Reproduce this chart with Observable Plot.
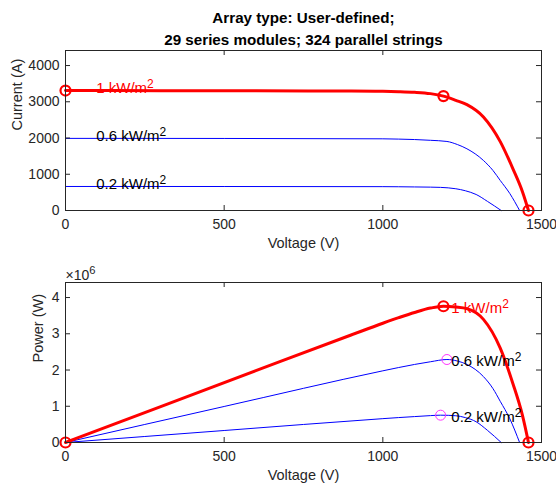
<!DOCTYPE html>
<html>
<head>
<meta charset="utf-8">
<script src="https://cdn.jsdelivr.net/npm/d3@7"></script>
<script src="https://cdn.jsdelivr.net/npm/@observablehq/plot@0.6"></script>
<style>
  html, body { margin: 0; padding: 0; background: #fff; }
  #chart { position: relative; width: 556px; height: 484px; font-family: "Liberation Sans", Arial, sans-serif; }
  #chart svg { display: block; overflow: visible; }
</style>
</head>
<body>
<div id="chart"></div>
<script>
// ---- data ----
const titleLines = ["Array type: User-defined;", "29 series modules; 324 parallel strings"];
const xTicks = [0, 500, 1000, 1500];
const iTicks = [0, 1000, 2000, 3000, 4000];
const pTicks = [0, 1, 2, 3, 4];

// 1 kW/m^2 (red, thick): voltage (V), current (A), power (x10^6 W)
const vRed = [0, 300, 600, 900, 1000, 1050, 1100, 1150, 1191, 1230, 1265, 1317, 1370, 1410, 1440, 1459];
const iRed = [3310, 3306, 3302, 3296, 3290, 3280, 3262, 3225, 3157, 3040, 2920, 2580, 1900, 1150, 520, 0];
const pRed = [0, 0.992, 1.981, 2.966, 3.29, 3.444, 3.588, 3.709, 3.760, 3.739, 3.694, 3.398, 2.603, 1.622, 0.749, 0];
// 0.6 kW/m^2 (blue)
const v06 = [0, 500, 1000, 1050, 1100, 1150, 1202, 1235, 1265, 1317, 1347, 1370, 1400, 1431];
const i06 = [1990, 1988, 1978, 1970, 1958, 1937, 1905, 1820, 1703, 1381, 1105, 829, 470, 0];
const p06 = [0, 0.994, 1.978, 2.069, 2.154, 2.228, 2.290, 2.248, 2.154, 1.819, 1.488, 1.136, 0.658, 0];
// 0.2 kW/m^2 (blue)
const v02 = [0, 500, 1000, 1050, 1100, 1150, 1182, 1230, 1260, 1294, 1330, 1373];
const i02 = [663, 662, 658, 655, 650, 645, 638, 600, 545, 442, 250, 0];
const p02 = [0, 0.331, 0.658, 0.688, 0.715, 0.742, 0.754, 0.738, 0.687, 0.572, 0.333, 0];

// marker points
const redIVMarks = {v: [0, 1191, 1459], i: [3310, 3157, 0]};
const redPVMarks = {v: [0, 1191, 1459], p: [0, 3.76, 0]};
const mppBlue = {v: [1202, 1182], p: [2.29, 0.754]};

// curve labels
const labelText = ["1 kW/m²", "0.6 kW/m²", "0.2 kW/m²"];
const labelColor = ["#ff0000", "#000000", "#000000"];
const ivLabelV = [100, 100, 100];
const ivLabelI = [3310, 1990, 663];
const pvLabelV = [1200, 1200, 1200];
const pvLabelP = [3.76, 2.29, 0.754];

const xLabel = "Voltage (V)";
const iLabel = "Current (A)";
const pLabel = "Power (W)";
const expLabel = "×10⁶";

// ---- helpers ----
const zip = (xs, ys, kx, ky) => xs.map((x, k) => ({[kx]: x, [ky]: ys[k]}));
const axisColor = "#262626";
const W = 556;
const FW = 476, FH = 160;
const tickFont = 14, labelFont = 14.5;

function axesMarks(yTicks, yLabel, yLabelDx) {
  return [
    Plot.frame({stroke: axisColor, strokeWidth: 1}),
    Plot.tickX(xTicks, {x: d => d, insetTop: FH - 5, stroke: axisColor}),
    Plot.tickX(xTicks, {x: d => d, insetBottom: FH - 5, stroke: axisColor}),
    Plot.tickY(yTicks, {y: d => d, insetRight: FW - 5, stroke: axisColor}),
    Plot.tickY(yTicks, {y: d => d, insetLeft: FW - 5, stroke: axisColor}),
    Plot.text(xTicks, {x: d => d, text: d => String(d), frameAnchor: "bottom", lineAnchor: "middle", dy: 14, fontSize: tickFont, fill: axisColor}),
    Plot.text(yTicks, {y: d => d, text: d => String(d), frameAnchor: "left", textAnchor: "end", dx: -6, fontSize: tickFont, fill: axisColor}),
    Plot.text([xLabel], {frameAnchor: "bottom", lineAnchor: "middle", dy: 33, fontSize: labelFont, fill: axisColor}),
    Plot.text([yLabel], {frameAnchor: "left", rotate: -90, dx: yLabelDx, fontSize: labelFont, fill: axisColor})
  ];
}

function superscript(svg) {
  svg.querySelectorAll("text").forEach(t => {
    const s = t.textContent;
    const m = s.match(/^(.*?)([²⁶])$/);
    if (m && t.children.length === 0) {
      t.textContent = m[1];
      const ts = document.createElementNS("http://www.w3.org/2000/svg", "tspan");
      ts.setAttribute("dy", "-0.45em");
      ts.setAttribute("font-size", "0.8em");
      ts.textContent = m[2] === "²" ? "2" : "6";
      t.appendChild(ts);
    }
  });
  return svg;
}

// ---- upper: I-V ----
const ivRed = zip(vRed, iRed, "v", "i");
const iv06 = zip(v06, i06, "v", "i");
const iv02 = zip(v02, i02, "v", "i");
const ivMarks = zip(redIVMarks.v, redIVMarks.i, "v", "i");
const ivLabels = labelText.map((t, k) => ({t, c: labelColor[k], v: ivLabelV[k], i: ivLabelI[k]}));

const upperPlot = Plot.plot({
  width: W, height: 256,
  marginTop: 50, marginBottom: 46, marginLeft: 65, marginRight: 15,
  x: {domain: [0, 1500], axis: null},
  y: {domain: [0, 4415], axis: null},
  style: {fontFamily: "'Liberation Sans', Arial, sans-serif", background: "transparent", overflow: "visible"},
  marks: [
    Plot.line(iv06, {x: "v", y: "i", stroke: "#0000ff", strokeWidth: 1, curve: "monotone-x"}),
    Plot.line(iv02, {x: "v", y: "i", stroke: "#0000ff", strokeWidth: 1, curve: "monotone-x"}),
    Plot.line(ivRed, {x: "v", y: "i", stroke: "#ff0000", strokeWidth: 3, curve: "monotone-x"}),
    Plot.dot(ivMarks, {x: "v", y: "i", r: 5, stroke: "#ff0000", strokeWidth: 2.2, fill: "none"}),
    Plot.text(ivLabels, {x: "v", y: "i", text: "t", fill: "c", textAnchor: "start", fontSize: 15, dx: -1, dy: -2}),
    ...axesMarks(iTicks, iLabel, -48),
    Plot.text([titleLines[0]], {frameAnchor: "top", lineAnchor: "middle", dy: -32, fontSize: 15.2, fontWeight: "bold", fill: "#000"}),
    Plot.text([titleLines[1]], {frameAnchor: "top", lineAnchor: "middle", dy: -10, fontSize: 15.2, fontWeight: "bold", fill: "#000"})
  ]
});

// ---- lower: P-V ----
const pvRed = zip(vRed, pRed, "v", "p");
const pv06 = zip(v06, p06, "v", "p");
const pv02 = zip(v02, p02, "v", "p");
const pvMarks = zip(redPVMarks.v, redPVMarks.p, "v", "p");
const blueMarks = zip(mppBlue.v, mppBlue.p, "v", "p");
const pvLabels = labelText.map((t, k) => ({t, c: labelColor[k], v: pvLabelV[k], p: pvLabelP[k]}));

const lowerPlot = Plot.plot({
  width: W, height: 228,
  marginTop: 26, marginBottom: 42, marginLeft: 65, marginRight: 15,
  x: {domain: [0, 1500], axis: null},
  y: {domain: [0, 4.415], axis: null},
  style: {fontFamily: "'Liberation Sans', Arial, sans-serif", background: "transparent", overflow: "visible"},
  marks: [
    Plot.line(pv06, {x: "v", y: "p", stroke: "#0000ff", strokeWidth: 1, curve: "monotone-x"}),
    Plot.line(pv02, {x: "v", y: "p", stroke: "#0000ff", strokeWidth: 1, curve: "monotone-x"}),
    Plot.line(pvRed, {x: "v", y: "p", stroke: "#ff0000", strokeWidth: 3, curve: "monotone-x"}),
    Plot.dot(blueMarks, {x: "v", y: "p", r: 5, stroke: "#ff33ff", strokeWidth: 1, fill: "none"}),
    Plot.dot(pvMarks, {x: "v", y: "p", r: 5, stroke: "#ff0000", strokeWidth: 2.2, fill: "none"}),
    Plot.text(pvLabels, {x: "v", y: "p", text: "t", fill: "c", textAnchor: "start", fontSize: 15, dx: 5, dy: 2}),
    ...axesMarks(pTicks, pLabel, -27),
    Plot.text([expLabel], {frameAnchor: "top-left", textAnchor: "start", lineAnchor: "bottom", dy: -3, fontSize: 14, fill: axisColor})
  ]
});

const chart = document.getElementById("chart");
const svgA = superscript(upperPlot);
const svgB = superscript(lowerPlot);
svgA.style.position = "absolute"; svgA.style.left = "0px"; svgA.style.top = "0px";
svgB.style.position = "absolute"; svgB.style.left = "0px"; svgB.style.top = "256px";
chart.appendChild(svgA);
chart.appendChild(svgB);
</script>
</body>
</html>
